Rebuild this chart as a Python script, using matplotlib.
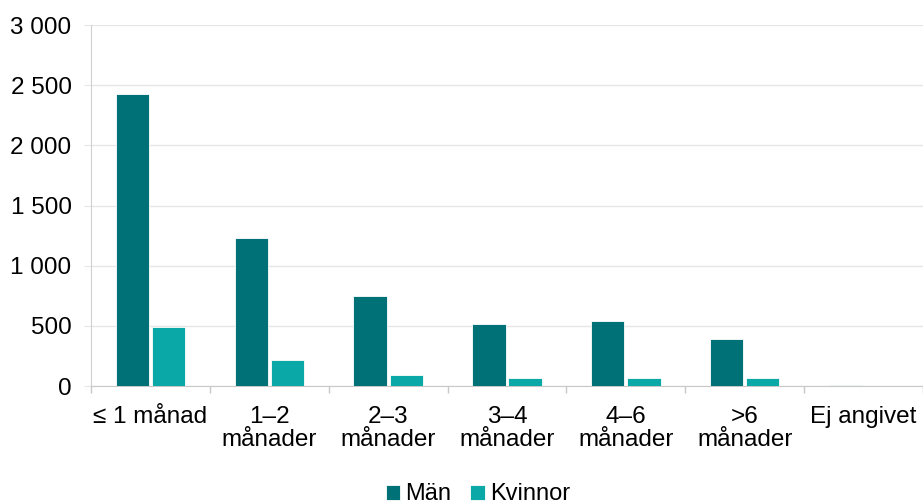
import numpy as np
import matplotlib
matplotlib.use("Agg")
from matplotlib import pyplot as plt
from matplotlib.ticker import FuncFormatter

# data
categories = ["≤ 1 månad", "1–2\nmånader", "2–3\nmånader", "3–4\nmånader",
              "4–6\nmånader", ">6\nmånader", "Ej angivet"]
man = [2425, 1233, 750, 517, 544, 394, 10]
kvinnor = [490, 217, 92, 64, 67, 67, 2]

plt.rcParams["font.family"] = ["Liberation Sans", "DejaVu Sans"]
fs = 17.5

fig = plt.figure(figsize=(9.23, 5.04), dpi=100)
ax = fig.add_axes([0.0986, 0.234, 0.9014, 0.716])

x = np.arange(len(categories))
width = 0.28
gap = 0.025
ax.bar(x - width / 2 - gap / 2, man, width, color="#007176", edgecolor="white",
       linewidth=0.6, label="Män", zorder=3)
ax.bar(x + width / 2 + gap / 2, kvinnor, width, color="#0AA8A7", edgecolor="white",
       linewidth=0.6, label="Kvinnor", zorder=3)

ax.set_xlim(-0.5, len(categories) - 0.5)
ax.set_ylim(0, 3000)
ax.set_yticks(range(0, 3001, 500))
ax.yaxis.set_major_formatter(FuncFormatter(lambda v, p: f"{int(v):,}".replace(",", " ")))
ax.grid(axis="y", color="#e6e6e6", linewidth=1, zorder=0)

# category labels in the middle, tick marks on the boundaries
ax.set_xticks(x)
ax.set_xticklabels(categories, fontsize=fs, va="top", linespacing=1.08)
ax.tick_params(axis="x", length=0, pad=14)
ax.set_xticks(np.arange(len(categories) + 1) - 0.5, minor=True)
ax.tick_params(axis="x", which="minor", length=5, color="#c8c8c8", width=1)
ax.tick_params(axis="y", length=5, color="#e6e6e6", labelsize=fs, pad=9)

for s in ["top", "right"]:
    ax.spines[s].set_visible(False)
ax.spines["left"].set_color("#d0d0d0")
ax.spines["bottom"].set_color("#c8c8c8")

fig.legend(loc="lower center", bbox_to_anchor=(0.518, -0.045), ncol=2, frameon=False,
           fontsize=17, handlelength=0.6, handleheight=0.6, handletextpad=0.25,
           columnspacing=0.8)

fig.savefig("out.png", dpi=100)
